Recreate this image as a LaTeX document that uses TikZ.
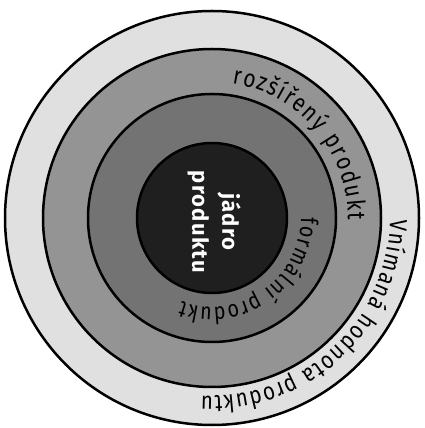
\documentclass[tikz,border=0pt]{standalone}
\usepackage{fontspec}
\newfontfamily\labfont[FakeStretch=0.84]{Fira Sans}
\newfontfamily\corefont[LetterSpace=6]{Fira Sans}
\usetikzlibrary{decorations.text}
\tikzset{
  ring/.style={draw=black, line width=2.5pt},
}
\begin{document}
\begin{tikzpicture}[x=1pt,y=1pt]
\useasboundingbox (0,0) rectangle (424,428);
\fill[white] (0,0) rectangle (424,428);
\begin{scope}[shift={(212,210)}]
  \draw[ring, fill=black!12] (0,0) circle[radius=207];
  \draw[ring, fill=black!42] (0,0) circle[radius=169];
  \draw[ring, fill=black!55] (0,0) circle[radius=124];
  \draw[ring, fill=black!88] (0,0) circle[radius=75];
  \path[decorate, decoration={text along path, text align={fit to path},
      text={|\labfont\fontsize{25}{25}\selectfont|rozšířený produkt}}]
    (81.5:136) arc[start angle=81.5, end angle=-1, radius=136];
  \path[decorate, decoration={text along path, text align={fit to path},
      text={|\labfont\fontsize{23.5}{23.5}\selectfont|formální produkt}}]
    (0.5:89) arc[start angle=0.5, end angle=-110, radius=89];
  \path[decorate, decoration={text along path, text align={fit to path},
      text={|\labfont\fontsize{24.5}{24.5}\selectfont|Vnímaná hodnota produktu}}]
    (-0.5:178) arc[start angle=-0.5, end angle=-93.5, radius=178];
  \node[text=white, align=center, rotate=-90, inner sep=0pt,
        font=\corefont\bfseries\fontsize{22}{30}\selectfont] (core) at (2,-4) {jádro\\produktu};
\end{scope}
\end{tikzpicture}
\end{document}
